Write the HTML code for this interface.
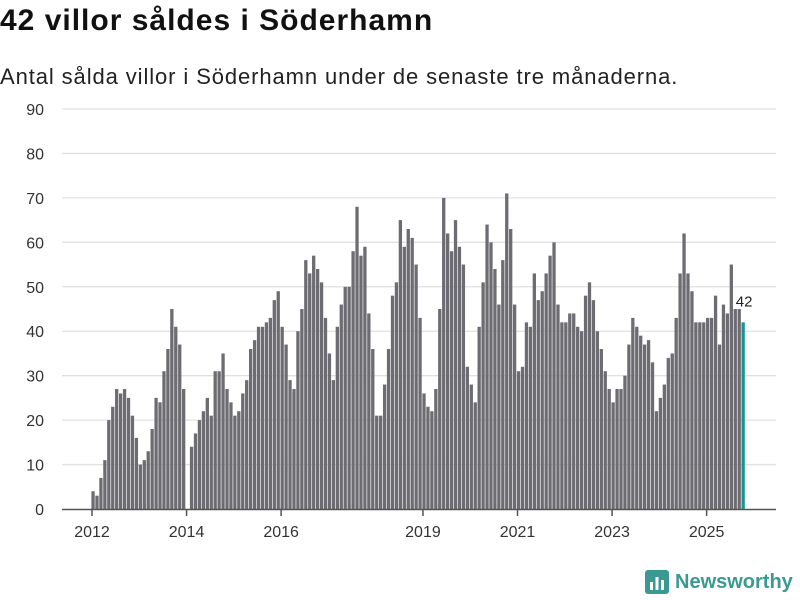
<!DOCTYPE html>
<html><head><meta charset="utf-8"><style>
body{margin:0;width:800px;height:600px;background:#fff;font-family:"Liberation Sans",sans-serif;overflow:hidden;position:relative}
h1{position:absolute;left:0;top:4px;margin:0;font-size:30px;letter-spacing:1px;font-weight:bold;color:#111}
p{position:absolute;left:0;top:64px;margin:0;font-size:22px;letter-spacing:0.9px;color:#222}
svg{position:absolute;left:0;top:0}
</style></head><body>
<h1>42 villor såldes i Söderhamn</h1>
<p>Antal sålda villor i Söderhamn under de senaste tre månaderna.</p>
<svg id="c" width="800" height="600"></svg>
<script>
const values=[4,3,7,11,20,23,27,26,27,25,21,16,10,11,13,18,25,24,31,36,45,41,37,27,0,
14,17,20,22,25,21,31,31,35,27,24,21,
22,26,29,36,38,41,41,42,43,47,49,41,
37,29,27,40,45,56,53,57,54,51,43,35,
29,41,46,50,50,58,68,57,59,44,36,21,
21,28,36,48,51,65,59,63,61,55,43,26,
23,22,27,45,70,62,58,65,59,55,32,28,
24,41,51,64,60,54,46,56,71,63,46,31,
32,42,41,53,47,49,53,57,60,46,42,42,
44,44,41,40,48,51,47,40,36,31,27,24,
27,27,30,37,43,41,39,37,38,33,22,25,
28,34,35,43,53,62,53,49,42,42,42,43,
43,48,37,46,44,55,45,45,42];
const yTicks=[0,10,20,30,40,50,60,70,80,90];
const xTickYears=[2012,2014,2016,2019,2021,2023,2025];
const startYear=2012;
const NS="http://www.w3.org/2000/svg";
const svg=document.getElementById('c');
const y=v=>509-v*400/90;
const x=i=>93+i*3.94;
function mk(t,a){const e=document.createElementNS(NS,t);for(const k in a)e.setAttribute(k,a[k]);svg.appendChild(e);return e;}
yTicks.forEach(t=>{
  if(t>0){const l=mk('line',{x1:62,x2:776,y1:y(t),y2:y(t),stroke:'#e0e0e0','stroke-width':1.3});
  
  }
  const tx=mk('text',{x:44,y:y(t)+6,'text-anchor':'end','font-size':16,fill:'#333','font-family':'Liberation Sans, sans-serif'});
  tx.textContent=t;
  
  
});
values.forEach((v,i)=>{
  const last=i===values.length-1;
  const r=mk('rect',{x:x(i)-1.6,y:y(v),width:3.3,height:509-y(v),fill:last?'#16968e':'#6d6c72'});
  
  
});
const ax=mk('line',{x1:62,x2:776,y1:509.5,y2:509.5,stroke:'#555','stroke-width':1.5});


xTickYears.forEach(yr=>{
  const xi=x((yr-startYear)*12)-1;
  const tk=mk('line',{x1:xi,x2:xi,y1:510,y2:516,stroke:'#555','stroke-width':1.5});
  
  
  const t=mk('text',{x:xi,y:537,'text-anchor':'middle','font-size':16,fill:'#333','font-family':'Liberation Sans, sans-serif'});
  t.textContent=yr;
  
  
});
const li=values.length-1;
const lb=mk('text',{x:x(li)+1,y:y(values[li])-16,'text-anchor':'middle','font-size':15,fill:'#222','font-family':'Liberation Sans, sans-serif',stroke:'#fff','stroke-width':3,'paint-order':'stroke'});
lb.textContent=values[li];


</script>
<div style="position:absolute;left:645px;top:570px;display:flex;align-items:center;gap:6px">
<svg width="24" height="24" style="position:static"><rect x="0" y="0" width="24" height="24" rx="3" fill="#3a9a92"/><rect x="5" y="12" width="3" height="8" fill="#fff"/><rect x="10.5" y="7" width="3" height="13" fill="#fff"/><rect x="16" y="10" width="3" height="10" fill="#fff"/></svg>
<span style="font-size:20px;font-weight:bold;color:#3a9a92">Newsworthy</span></div>
</body></html>
